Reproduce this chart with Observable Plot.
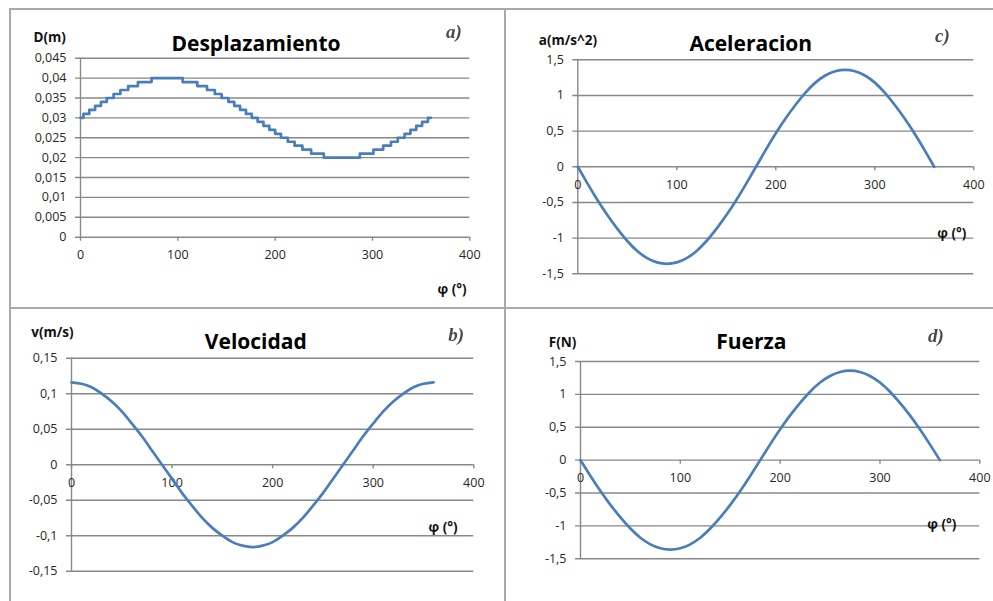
<!DOCTYPE html>
<html>
<head>
<meta charset="utf-8">
<script src="https://cdn.jsdelivr.net/npm/d3@7"></script>
<script src="https://cdn.jsdelivr.net/npm/@observablehq/plot@0.6"></script>
<style>
  body { margin: 0; background: #fff; }
  #board { position: relative; width: 993px; height: 601px; overflow: hidden; font-family: "Open Sans", sans-serif; }
  #board svg { position: absolute; left: 0; top: 0; }
  .sep { position: absolute; background: #a9a9a9; }
  .tag { position: absolute; font-family: "Liberation Serif", serif; font-style: italic; font-weight: bold;
         font-size: 19px; line-height: 19px; color: #4a4a4a; filter: blur(0.6px); }
</style>
</head>
<body>
<div id="board"></div>
<script>
// Crank angle samples (degrees) for the smooth curves
const phi = [0,10,20,30,40,50,60,70,80,90,100,110,120,130,140,150,160,170,180,
             190,200,210,220,230,240,250,260,270,280,290,300,310,320,330,340,350,360];

// Velocity v (m/s)
const velocity = [0.116,0.114,0.109,0.100,0.089,0.075,0.058,0.040,0.020,0.000,
                  -0.020,-0.040,-0.058,-0.075,-0.089,-0.100,-0.109,-0.114,-0.116,
                  -0.114,-0.109,-0.100,-0.089,-0.075,-0.058,-0.040,-0.020,0.000,
                  0.020,0.040,0.058,0.075,0.089,0.100,0.109,0.114,0.116];

// Acceleration a (m/s^2)
const acceleration = [0,-0.24,-0.47,-0.68,-0.87,-1.04,-1.18,-1.28,-1.34,-1.36,
                      -1.34,-1.28,-1.18,-1.04,-0.87,-0.68,-0.47,-0.24,0,
                      0.24,0.47,0.68,0.87,1.04,1.18,1.28,1.34,1.36,
                      1.34,1.28,1.18,1.04,0.87,0.68,0.47,0.24,0];

// Force F (N)
const force = [0,-0.24,-0.47,-0.68,-0.87,-1.04,-1.18,-1.28,-1.34,-1.36,
               -1.34,-1.28,-1.18,-1.04,-0.87,-0.68,-0.47,-0.24,0,
               0.24,0.47,0.68,0.87,1.04,1.18,1.28,1.34,1.36,
               1.34,1.28,1.18,1.04,0.87,0.68,0.47,0.24,0];

// Displacement D (m), recorded to the millimetre: angle where each level starts
const dispStart = [0,3,9,15,21,27,34,41,49,59,73,105,120,130,138,145,152,158,164,170,176,
                   182,188,194,200,206,213,220,228,237,250,287,301,311,319,326,333,339,345,351,357,360];
const dispLevel = [0.030,0.031,0.032,0.033,0.034,0.035,0.036,0.037,0.038,0.039,0.040,
                   0.039,0.038,0.037,0.036,0.035,0.034,0.033,0.032,0.031,0.030,
                   0.029,0.028,0.027,0.026,0.025,0.024,0.023,0.022,0.021,0.020,
                   0.021,0.022,0.023,0.024,0.025,0.026,0.027,0.028,0.029,0.030,0.030];

// Axis ticks
const xTicks = [0,100,200,300,400];
const dTicks = [0,0.005,0.01,0.015,0.02,0.025,0.03,0.035,0.04,0.045];
const vTicks = [-0.15,-0.1,-0.05,0,0.05,0.1,0.15];
const aTicks = [-1.5,-1,-0.5,0,0.5,1,1.5];
const fTicks = [-1.5,-1,-0.5,0,0.5,1,1.5];

const W = 993, H = 601;
const gridColor = "#888888";
const lineColor = "#4a7ebb";
const comma = d => String(d).replace(".", ",");

function panel(o) {
  const f = o.frame;
  const fw = f.right - f.left, fh = f.bottom - f.top;
  const y0 = o.yDomain[0], y1 = o.yDomain[1];
  const tickLenY = (y1 - y0) * 4 / fh;   // 4px downward x ticks
  const tickLenX = 400 * 5 / fw;          // 5px leftward y ticks
  const at = (p) => ({frameAnchor: "top-left", dx: p[0] - f.left, dy: p[1] - f.top});
  return Plot.plot({
    width: W, height: H,
    marginLeft: f.left, marginRight: W - f.right, marginTop: f.top, marginBottom: H - f.bottom,
    x: {domain: [0, 400], axis: null},
    y: {domain: o.yDomain, axis: null},
    style: {overflow: "visible", background: "transparent", fontFamily: "'Open Sans', sans-serif"},
    marks: [
      Plot.ruleY(o.yTicks, {x1: -tickLenX, x2: 400, stroke: gridColor, strokeWidth: 1.4}),
      Plot.ruleX([0], {y1: y0, y2: y1, stroke: gridColor, strokeWidth: 1.4}),
      Plot.ruleX(xTicks, {y1: 0, y2: -tickLenY, stroke: gridColor, strokeWidth: 1.4}),
      Plot.text(o.yTicks, {x: 0, y: d => d, text: comma, textAnchor: "end", dx: -14, fontSize: 12.5, fill: "#262626"}),
      Plot.text(xTicks, {x: d => d, y: 0, text: comma, dy: 18, fontSize: 12.5, fill: "#262626"}),
      Plot.line(o.data, {x: "phi", y: "value", curve: o.curve, stroke: lineColor, strokeWidth: 2.7}),
      Plot.text([o.title], {...at(o.titleAt), textAnchor: "middle", fontSize: 21, fontWeight: "bold", fill: "#000"}),
      Plot.text([o.unit], {...at(o.unitAt), textAnchor: "start", fontSize: 13.5, fontWeight: "bold", fill: "#111"}),
      Plot.text(["φ (°)"], {...at(o.phiAt), textAnchor: "start", fontSize: 13.5, fontWeight: "bold", fill: "#111"})
    ]
  });
}

const board = document.getElementById("board");

const dispData = dispStart.map((p, i) => ({phi: p, value: dispLevel[i]}));
const velData = phi.map((p, i) => ({phi: p, value: velocity[i]}));
const accData = phi.map((p, i) => ({phi: p, value: acceleration[i]}));
const forData = phi.map((p, i) => ({phi: p, value: force[i]}));

board.append(panel({
  frame: {left: 80, right: 469.3, top: 57.7, bottom: 236.7},
  yDomain: [0, 0.045], yTicks: dTicks, data: dispData, curve: "step-after",
  title: "Desplazamiento", titleAt: [255.5, 35.5],
  unit: "D(m)", unitAt: [33, 32], phiAt: [437, 283.5]
}));
board.append(panel({
  frame: {left: 577.3, right: 973.3, top: 59.3, bottom: 273.3},
  yDomain: [-1.5, 1.5], yTicks: aTicks, data: accData, curve: "natural",
  title: "Aceleracion", titleAt: [750.3, 35.5],
  unit: "a(m/s^2)", unitAt: [538.3, 34.5], phiAt: [936.7, 228]
}));
board.append(panel({
  frame: {left: 71, right: 473.3, top: 357.7, bottom: 570.7},
  yDomain: [-0.15, 0.15], yTicks: vTicks, data: velData, curve: "natural",
  title: "Velocidad", titleAt: [255.3, 333.5],
  unit: "v(m/s)", unitAt: [30.7, 326.5], phiAt: [428, 522]
}));
board.append(panel({
  frame: {left: 580, right: 979.3, top: 361, bottom: 558.3},
  yDomain: [-1.5, 1.5], yTicks: fTicks, data: forData, curve: "natural",
  title: "Fuerza", titleAt: [750.8, 333.5],
  unit: "F(N)", unitAt: [548.3, 336.5], phiAt: [926.7, 518.5]
}));

// Panel separators
[[9, 9, 2, H - 9], [504, 9, 2, H - 9], [9, 8, W - 9, 2], [9, 306.5, W - 9, 2]].forEach(([l, t, w, h]) => {
  const d = document.createElement("div");
  d.className = "sep";
  Object.assign(d.style, {left: l + "px", top: t + "px", width: w + "px", height: h + "px"});
  board.append(d);
});

// Panel letters
[["a)", 446, 21.5], ["c)", 935, 25.5], ["b)", 448.3, 324.5], ["d)", 928, 325.5]].forEach(([s, l, t]) => {
  const d = document.createElement("div");
  d.className = "tag";
  d.textContent = s;
  Object.assign(d.style, {left: l + "px", top: t + "px"});
  board.append(d);
});
</script>
</body>
</html>
